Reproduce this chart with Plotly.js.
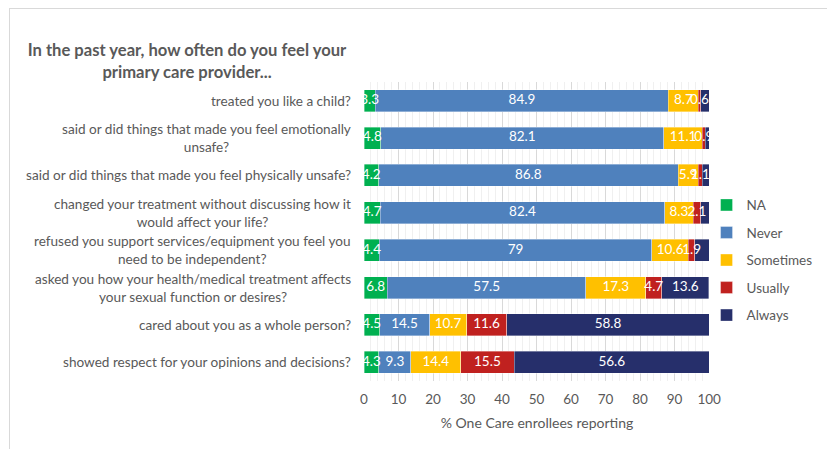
<!DOCTYPE html>
<html>
<head>
<meta charset="utf-8">
<script src="https://cdn.plot.ly/plotly-3.0.1.min.js"></script>
<style>
  html, body { margin: 0; padding: 0; background: #ffffff; }
  #wrap { position: relative; width: 827px; height: 449px; }
  #chart { width: 827px; height: 449px; }
  #frame { position: absolute; left: 9px; top: 8px; width: 818px; height: 441px;
           border-left: 1px solid #d9d9d9; border-top: 1px solid #d9d9d9;
           box-sizing: border-box; pointer-events: none; }
</style>
</head>
<body>
<div id="wrap">
  <div id="chart"></div>
  <div id="frame"></div>
</div>
<script>
// ---- data ----
const categories = [
  "treated you like a child?",
  "said or did things that made you feel emotionally<br>unsafe?",
  "said or did things that made you feel physically unsafe?",
  "changed your treatment without discussing how it<br>would affect your life?",
  "refused you support services/equipment you feel you<br>need to be independent?",
  "asked you how your health/medical treatment affects<br>your sexual function or desires?",
  "cared about you as a whole person?",
  "showed respect for your opinions and decisions?"
];
const seriesNames = ["NA", "Never", "Sometimes", "Usually", "Always"];
const naValues        = [3.3, 4.8, 4.2, 4.7, 4.4, 6.8, 4.5, 4.3];
const neverValues     = [84.9, 82.1, 86.8, 82.4, 79, 57.5, 14.5, 9.3];
const sometimesValues = [8.7, 11.1, 5.9, 8.3, 10.6, 17.3, 10.7, 14.4];
const usuallyValues   = [0.6, 0.9, 1.1, 2.1, 1.9, 4.7, 11.6, 15.5];
const alwaysValues    = [2.5, 1.1, 2.0, 2.5, 4.1, 13.6, 58.8, 56.6];
// which "Always" labels are visible in the reference (others hidden behind neighbours)
const alwaysLabelShown = [false, false, false, false, false, true, true, true];
const xTickVals = [0, 10, 20, 30, 40, 50, 60, 70, 80, 90, 100];
const titleText = "In the past year, how often do you feel your<br>primary care provider...";
const xTitleText = "% One Care enrollees reporting";

// ---- styles ----
const colors = ["#00b050", "#4f81bd", "#ffc000", "#c0211f", "#262f6b"];
const FONT = "Lato, 'Open Sans', sans-serif";
const GREY = "#595959";

const allValues = [naValues, neverValues, sometimesValues, usuallyValues, alwaysValues];
const yIdx = categories.map((c, i) => i);

// stacked bars
const barTraces = allValues.map((vals, s) => ({
  type: "bar",
  orientation: "h",
  name: seriesNames[s],
  legendgroup: seriesNames[s],
  x: vals,
  y: yIdx,
  marker: { color: colors[s], line: { color: "rgba(255,255,255,0.6)", width: 0.6 } },
  hoverinfo: "x+name"
}));

// data labels on top of all bars, centred on each segment (from cumulative sums of the data)
const labelTraces = allValues.map((vals, s) => {
  const centres = vals.map((v, i) => {
    let base = 0;
    for (let k = 0; k < s; k++) base += allValues[k][i];
    return base + v / 2;
  });
  return {
    type: "scatter",
    mode: "text",
    x: centres,
    y: yIdx,
    text: vals.map((v, i) => (s === 4 && !alwaysLabelShown[i]) ? "" : String(v)),
    textposition: "middle center",
    textfont: { family: FONT, size: 13.5, color: "#ffffff" },
    showlegend: false,
    cliponaxis: false,
    hoverinfo: "skip"
  };
});

const annotations = categories.map((c, i) => ({
  xref: "paper", yref: "y",
  x: 0, y: i,
  xshift: -11,
  xanchor: "right", yanchor: "middle",
  align: "center",
  text: c,
  showarrow: false,
  font: { family: FONT, size: 13.6, color: GREY }
}));

const layout = {
  width: 827, height: 449,
  margin: { l: 364, r: 117, t: 82, b: 68, autoexpand: false },
  paper_bgcolor: "rgba(0,0,0,0)",
  plot_bgcolor: "#ffffff",
  barmode: "stack",
  bargap: 0.41,
  font: { family: FONT, color: GREY, size: 13 },
  title: {
    text: titleText,
    x: 187 / 827, xanchor: "center", xref: "container",
    y: 1 - 56 / 449, yanchor: "top", yref: "container",
    font: { family: FONT, size: 16.6, color: GREY, weight: "bold" }
  },
  xaxis: {
    range: [0, 100.25],
    tickvals: xTickVals,
    ticktext: xTickVals.map(String),
    showgrid: true,
    gridcolor: "#d9d9d9",
    gridwidth: 1,
    minor: { dtick: 2, showgrid: true, gridcolor: "#f0f0f0", gridwidth: 1 },
    zeroline: false,
    showline: false,
    ticks: "",
    tickfont: { family: FONT, size: 13.5, color: GREY },
    ticklabelstandoff: 8,
    title: { text: xTitleText, font: { family: FONT, size: 14, color: GREY }, standoff: 12 },
    automargin: false,
    fixedrange: true
  },
  yaxis: {
    type: "linear",
    range: [7.5, -0.5],
    showticklabels: false,
    showgrid: false,
    zeroline: false,
    showline: false,
    ticks: "",
    automargin: false,
    fixedrange: true
  },
  showlegend: true,
  legend: {
    x: 0.99, xanchor: "left",
    y: 0.64, yanchor: "top",
    traceorder: "grouped",
    tracegroupgap: 7,
    font: { family: FONT, size: 13.5, color: GREY },
    itemwidth: 30,
    bgcolor: "rgba(0,0,0,0)"
  },
  annotations: annotations
};

Plotly.newPlot("chart", barTraces.concat(labelTraces), layout, { displayModeBar: false, staticPlot: true });
</script>
</body>
</html>
